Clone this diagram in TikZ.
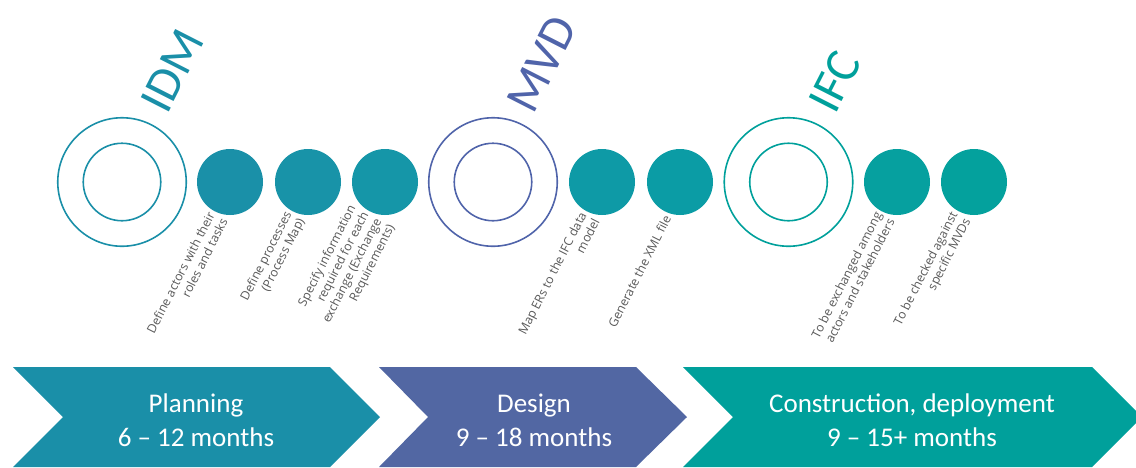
\documentclass[tikz,border=0pt]{standalone}
\usepackage{fontspec}
\setmainfont{Carlito}
\newfontfamily\labelfont{Open Sans}
\usetikzlibrary{calc}
\definecolor{cPlan}{RGB}{26,143,168}
\definecolor{cDes}{RGB}{82,103,163}
\definecolor{cCon}{RGB}{0,160,155}
\definecolor{cMVD}{RGB}{80,100,170}
\definecolor{txtgray}{RGB}{89,89,89}
\definecolor{d1c}{RGB}{26,144,168}
\definecolor{d2c}{RGB}{24,147,168}
\definecolor{d3c}{RGB}{21,150,168}
\definecolor{d4c}{RGB}{14,154,166}
\definecolor{d5c}{RGB}{11,156,165}
\definecolor{d6c}{RGB}{6,160,159}
\definecolor{d7c}{RGB}{4,161,157}
\begin{document}
\begin{tikzpicture}[x=1pt,y=1pt,
  ring/.style={circle, draw=#1, line width=1.6pt, inner sep=0pt, minimum size=128.5pt},
  innerring/.style={circle, draw=#1, line width=1.6pt, inner sep=0pt, minimum size=77.5pt},
  dot/.style={circle, fill=#1, inner sep=0pt, minimum size=66pt},
  steplabel/.style={font=\labelfont\fontsize{12.3}{14.5}\selectfont, text=txtgray, rotate=63, anchor=east, align=right, inner sep=0pt},
  titletext/.style={font=\fontsize{49}{52}\selectfont, text=#1, rotate=63, anchor=base west, inner sep=0pt},
  phase/.style={font=\fontsize{27}{34}\selectfont, text=white, align=center, inner sep=0pt}]
\useasboundingbox (0,0) rectangle (1136,-467);
% chevrons
\fill[cPlan] (13,-367) -- (330,-367) -- (380,-417) -- (330,-467) -- (13,-467) -- (63,-417) -- cycle;
\fill[cDes] (379,-367) -- (636,-367) -- (687,-417) -- (636,-467) -- (379,-467) -- (428,-417) -- cycle;
\fill[cCon] (683,-367) -- (1092,-367) -- (1142,-417) -- (1092,-467) -- (683,-467) -- (733,-417) -- cycle;
\node[phase] (plan) at (196,-420) {Planning\\6 – 12 months};
\node[phase] (des) at (534,-420) {Design\\9 – 18 months};
\node[phase] (con) at (912,-420) {Construction, deployment\\9 – 15+ months};
% rings
\node[ring=cPlan] (idmo) at (122,-182) {};
\node[innerring=cPlan] (idmi) at (122,-182) {};
\node[ring=cMVD] (mvdo) at (493,-182) {};
\node[innerring=cMVD] (mvdi) at (493,-182) {};
\node[ring=cCon] (ifco) at (788.5,-182) {};
\node[innerring=cCon] (ifci) at (788.5,-182) {};
% titles
\node[titletext=cPlan] (idm) at (167,-116) {IDM};
\node[titletext=cMVD] (mvd) at (533,-116) {MVD};
\node[titletext=cCon] (ifc) at (835,-116) {IFC};
% dots
\node[dot=d1c] (d1) at (230,-182) {};
\node[dot=d2c] (d2) at (308,-182) {};
\node[dot=d3c] (d3) at (385,-182) {};
\node[dot=d4c] (d4) at (602,-182) {};
\node[dot=d5c] (d5) at (680,-182) {};
\node[dot=d6c] (d6) at (897,-182) {};
\node[dot=d7c] (d7) at (974,-182) {};
% labels
\node[steplabel] (l1) at ($(d1.center)+(-12.5,-34)$) {Define actors with their\\roles and tasks};
\node[steplabel] (l2) at ($(d2.center)+(-12.5,-34)$) {Define processes\\(Process Map)};
\node[steplabel] (l3) at ($(d3.center)+(-12.5,-34)$) {Specify information\\required for each\\exchange (Exchange\\Requirements)};
\node[steplabel] (l4) at ($(d4.center)+(-12.5,-34)$) {Map ERs to the IFC data\\model};
\node[steplabel] (l5) at ($(d5.center)+(-12.5,-34)$) {Generate the XML file};
\node[steplabel] (l6) at ($(d6.center)+(-12.5,-34)$) {To be exchanged among\\actors and stakeholders};
\node[steplabel] (l7) at ($(d7.center)+(-12.5,-34)$) {To be checked against\\specific MVDs};
\end{tikzpicture}
\end{document}
